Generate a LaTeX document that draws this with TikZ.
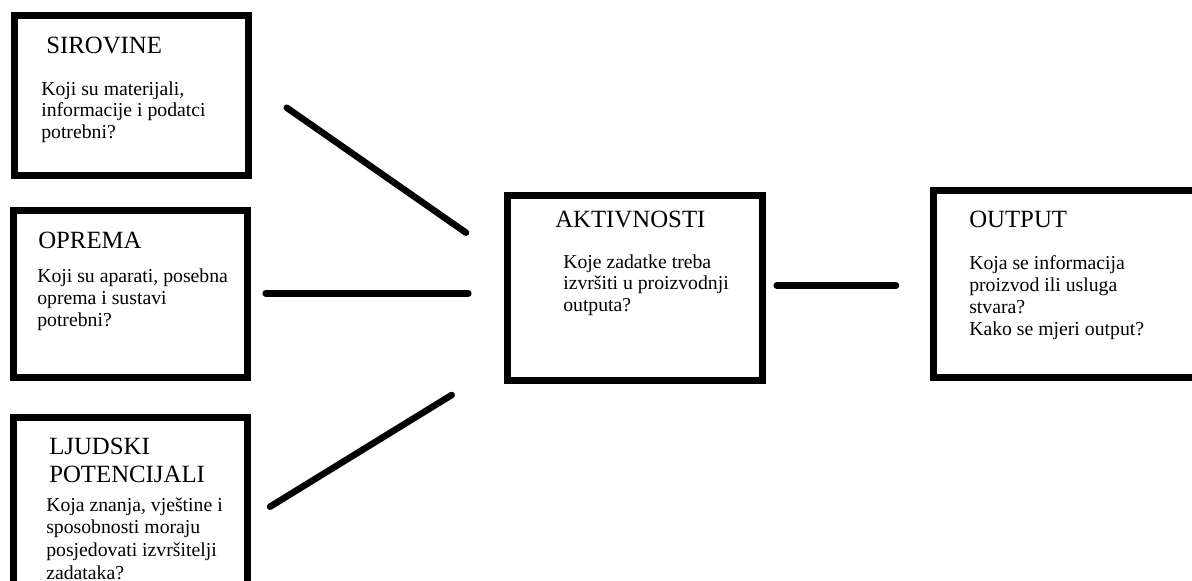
\documentclass[tikz,border=0pt]{standalone}
\usepackage{fontspec}
\setmainfont{Liberation Serif}
\tikzstyle{box}=[draw,line width=5.25pt,inner sep=0pt]
\tikzstyle{boxtitle}=[anchor=base west,inner sep=0pt,align=left,font=\fontsize{18.6}{20.3}\selectfont]
\tikzstyle{boxtext}=[anchor=base west,inner sep=0pt,align=left,font=\fontsize{14.8}{16.3}\selectfont]
\tikzstyle{link}=[line width=4.9pt,line cap=round]

\begin{document}
\begin{tikzpicture}[x=0.75pt,y=-0.75pt]
    \useasboundingbox (0,0) rectangle (1192,581);
    \clip (0,0) rectangle (1192,581);
    \node[box,minimum width=175.5pt,minimum height=120pt] (sirovine) at (131.5,95.5) {};
    \node[box,minimum width=175.5pt,minimum height=125.25pt] (oprema) at (130.5,294) {};
    \node[box,minimum width=175.5pt,minimum height=136.9pt] (ljudi) at (130.5,508.75) {};
    \node[box,minimum width=191.25pt,minimum height=138.75pt] (aktivnosti) at (635,288) {};
    \node[box,minimum width=207.4pt,minimum height=140.25pt] (output) at (1071.75,284) {};
    \node[boxtitle] (sirovineT) at (46,54) {SIROVINE};
    \node[boxtext] (sirovineB) at (41,138.5) {Koji su materijali,\\informacije i podatci\\potrebni?};
    \node[boxtitle] (opremaT) at (38,248) {OPREMA};
    \node[boxtext] (opremaB) at (37,326) {Koji su aparati, posebna\\oprema i sustavi\\potrebni?};
    \node[boxtitle] (ljudiT) at (49,482) {LJUDSKI\\POTENCIJALI};
    \node[boxtext,font=\fontsize{14.8}{17}\selectfont] (ljudiB) at (46,579) {Koja znanja, vještine i\\sposobnosti moraju\\posjedovati izvršitelji\\zadataka?};
    \node[boxtitle] (aktivnostiT) at (555,228) {AKTIVNOSTI};
    \node[boxtext] (aktivnostiB) at (563,311.5) {Koje zadatke treba\\izvršiti u proizvodnji\\outputa?};
    \node[boxtitle] (outputT) at (969,228) {OUTPUT};
    \node[boxtext] (outputB) at (969,335) {Koja se informacija\\proizvod ili usluga\\stvara?\\Kako se mjeri output?};
    \coordinate (s1) at (286.7,107.7);
    \coordinate (s2) at (466,232.7);
    \coordinate (o1) at (265.7,293.3);
    \coordinate (o2) at (468.3,293.3);
    \coordinate (l1) at (270,506.7);
    \coordinate (l2) at (451.7,395);
    \coordinate (a1) at (776.7,285.7);
    \coordinate (a2) at (896,285.7);
    \draw[link] (s1) -- (s2);
    \draw[link] (o1) -- (o2);
    \draw[link] (l1) -- (l2);
    \draw[link] (a1) -- (a2);
\end{tikzpicture}
\end{document}
